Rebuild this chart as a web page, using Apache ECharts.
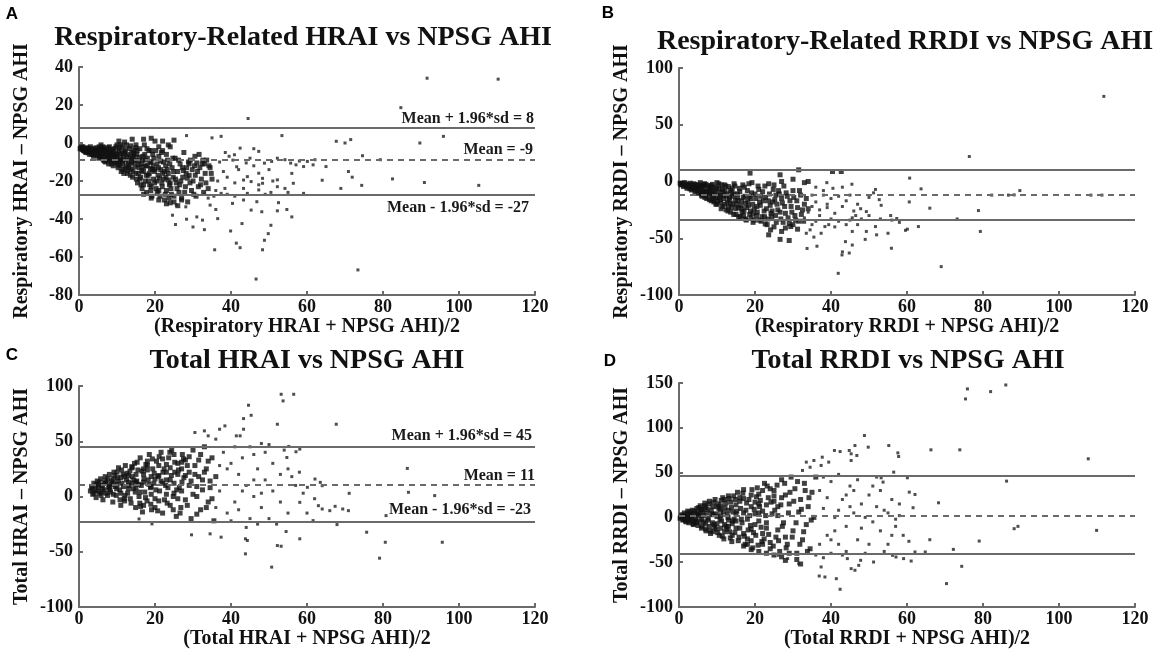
<!DOCTYPE html>
<html>
<head>
<meta charset="utf-8">
<script src="https://cdn.jsdelivr.net/npm/echarts/dist/echarts.min.js"></script>
<style>
  html, body { margin: 0; padding: 0; background: #fff; }
  #chart { width: 1170px; height: 658px; }
</style>
</head>
<body>
<div id="chart"></div>
<script>
// x axis shared by all panels
const xMin = 0, xMax = 120, xStep = 20;

// y ranges [min, max, step]
const yRangeA = [-80, 40, 20];
const yRangeB = [-100, 100, 50];
const yRangeC = [-100, 100, 50];
const yRangeD = [-100, 150, 50];

// bias line values: [mean + 1.96sd, mean, mean - 1.96sd]
const linesA = [8, -9, -27];
const linesB = [10, -12, -34];
const linesC = [45, 11, -23];
const linesD = [46, 2, -41];

const labelsA = ['Mean + 1.96*sd = 8', 'Mean = -9', 'Mean - 1.96*sd = -27'];
const labelsC = ['Mean + 1.96*sd = 45', 'Mean = 11', 'Mean - 1.96*sd = -23'];

const titles = [
  'Respiratory-Related HRAI vs NPSG AHI',
  'Respiratory-Related RRDI vs NPSG AHI',
  'Total HRAI vs NPSG AHI',
  'Total RRDI vs NPSG AHI'
];
const xNames = [
  '(Respiratory HRAI + NPSG AHI)/2',
  '(Respiratory RRDI + NPSG AHI)/2',
  '(Total HRAI + NPSG AHI)/2',
  '(Total RRDI + NPSG AHI)/2'
];
const yNames = [
  'Respiratory HRAI \u2013 NPSG AHI',
  'Respiratory RRDI \u2013 NPSG AHI',
  'Total HRAI \u2013 NPSG AHI',
  'Total RRDI \u2013 NPSG AHI'
];
const letters = ['A', 'B', 'C', 'D'];

// ---- panel A points (mean, difference) ----
const denseA = [
  [0.5,-2.5],[0.8,-3.5],[1,-2],[1.2,-4],[1.5,-3],[1.8,-5],[2,-2.5],[2.2,-4.5],[2.5,-3.5],[2.8,-6],[3,-2],[3.2,-5],[3.5,-4],[3.8,-7],[4,-3],[4.2,-5.5],[4.5,-2.5],[4.8,-6.5],[5,-4],[5.2,-8],[5.5,-3],
  [5.6,-5.5],[5.8,-1],[6,-7],[6.2,-4],[6.4,-9],[6.6,-2.5],[6.8,-6],[7,-10],[7.2,-3.5],[7.4,-8],[7.6,-5],[7.8,-11],[8,-2],[8.2,-7],[8.4,-4.5],[8.6,-9.5],[8.8,-6],[9,-12],[9.2,-3],[9.4,-8.5],[9.6,-5.5],[9.8,-10.5],[10,-1],[10,-7],
  [10.3,-13],[10.5,-4],[10.7,-9],[10.9,-6],[11.1,-15],[11.3,-2],[11.5,-11],[11.7,-7.5],[11.9,-4.5],[12.1,-13.5],[12.3,-9],[12.5,-1],[12.7,-16],[12.9,-6],[13.1,-11.5],[13.3,-3],[13.5,-8],[13.7,-14],[13.9,-5],[14.1,-18],[14.3,-10],[14.5,-7],[14.7,-12.5],[14.9,-2.5],[15,-16],
  [15.2,-6],[15.4,-21],[15.6,-9.5],[15.8,-13],[16,-3],[16.2,-18],[16.4,-11],[16.6,-24],[16.8,-7],[17,-15],[17.2,-1],[17.4,-20],[17.6,-12],[17.8,-26],[18,-8],[18.2,-17],[18.4,-4],[18.6,-22],[18.8,-13.5],[19,-10],[19.2,-28],[19.4,-6],[19.6,-19],[19.8,-15],[20,1],
  [20.3,-24],[20.5,-11],[20.8,-17],[21,-7],[21.3,-28],[21.5,-14],[21.8,-21],[22,-4],[22.3,-19],[22.5,-30],[22.8,-12],[23,-25],[23.3,-9],[23.5,-16],[23.8,-22],[24,-2],[24.3,-27],[24.5,-13],[24.8,-18],[25,-31],
  [25.3,-8],[25.6,-21],[26,-15],[26.3,-26],[26.6,-11],[27,-29],[27.3,-18],[27.6,-5],[28,-23],[28.3,-13],[28.6,-31],[29,-17],[29.3,-9],[29.6,-25],[30,-20],[30.4,-12],[30.8,-28],[31.2,-15],[31.6,-6],[32,-22],[32.4,-11],[32.8,-26],[33.2,-16],[33.6,-9],[34,-24],[34.5,-13],[35,-19],[33,-11],[31,-10.5],[29,-11],
  [1.4,-3.8],[2.6,-2.8],[3.4,-6],[4.4,-4.2],[5.4,-6.8],[6.5,-8],[7.5,-6.5],[8.5,-11],[9.5,-7],[10.5,-10.5],[11,-8.5],[12,-5.5],[13,-9.5],[14,-7.5],[15.5,-11.5],[16.5,-14.5],[17.5,-9],[18.5,-16],[19.5,-12],[20.5,-20],[21.5,-9.5],[22.5,-15],[23.5,-19.5],[12.5,-12],[11.5,-14],[13.5,-17],[14.5,-4],[16,-19],[17,-22],[18,-12],[19,-23],[20,-14],[21,-25],[22,-16],[23,-6],[24,-21],[6,-3],[7,-5],[8,-8.5],[9,-4.5],[10,-9],
  [10.5,1],[14,2],[17,2],[19,2.5],[22,1],[25,1.5],[12,0.5],
  [17,-27],[19,-29],[21,-30],[23,-32],[25,-28],[26,-33],[27,-30],[24,-31.5],
  [0.3,-3],[0.7,-2],[1.1,-3.2],[1.6,-4.5],[2.1,-3.5],[2.4,-5.2],[2.9,-4.2],[3.3,-3.2],[3.7,-5],[4.1,-6.2],[4.6,-3.8],[4.9,-5.2],[5.3,-2],[5.7,-7.5],[6.1,-5.2],[6.3,-2],[6.7,-9.5],[6.9,-4],[7.3,-7],[7.7,-2.5],[7.9,-9],[8.3,-5.5],[8.7,-3.5],[8.9,-7.5],[9.3,-10],[9.7,-2],[9.9,-6],[10.2,-11.5],[10.6,-3],[10.8,-12],[11.2,-5.5],[11.4,-9.5],[11.8,-16],[12.2,-3.5],[12.6,-7],[12.8,-14.5],[13.2,-13],[13.6,-1.5],[13.8,-10.5],[14.2,-15],[14.4,-5.5],[14.8,-9],[15.1,-19],[15.3,-4],[15.7,-16],[15.9,-7.5],[16.3,-22],[16.7,-9],[16.9,-12.5],[17.3,-6],[17.7,-17],[17.9,-3],[18.3,-20],[18.7,-10],[18.9,-25],[19.3,-14],[19.7,-8],[19.9,-21],[20.2,-4],[20.6,-26],[20.9,-13],[21.2,-18.5],[21.7,-5],[21.9,-23],[22.2,-10],[22.7,-27],[22.9,-18],[23.2,-14],[23.7,-29],[23.9,-11],[24.2,-24],[24.7,-8],[24.9,-15],[25.4,-19],[25.8,-24],[26.2,-9],[26.8,-20],[27.2,-13],[27.8,-26],[28.2,-16],[28.8,-10],[29.2,-21],[29.8,-14],[30.2,-27],[30.6,-17],[31.4,-23],[31.8,-13],[32.2,-19],[32.6,-9],[33.4,-21],[34.2,-12],[34.8,-16],[26.5,-22],[27.5,-14.5],[28.5,-18.5],[30.5,-7],[19,-4],[15,-1],[11,-1],[21,-2],[23.5,-1]
];
const sparseA = [
  [91.6,34.1],[110.3,33.6],[84.7,18.6],[44.5,12.9],[95.9,3.5],[89.7,0],[67.7,0.9],[70,0],[71.5,1.8],[53.4,3.9],[28.3,3.9],[35,2.7],[37.4,3.5],[74.6,-6.7],[79.3,-8.8],[82.5,-18.9],[90.9,-20.8],[105.2,-22.3],[74.4,-22.3],[71.9,-18],[70.9,-15],[68.9,-23.9],[64,-19.6],[65,-12.4],[59.1,-26.5],[56.4,-21.2],[52.2,-19.4],[52.2,-23],[54.2,-23.9],[52.5,-31.4],[54.7,-35],[56,-38.9],[52.2,-35.7],[50.5,-43.3],[49.8,-47.7],[48.8,-51.2],[48.3,-56.2],[46.6,-71.6],[73.4,-66.8],[42.4,-55.1],[41.4,-52.7],[39.9,-46.3],[42.9,-42.4],[35.7,-56.2],[33,-45.6],[30,-44.2],[28.3,-40.1],[25.4,-42.9],[32.5,-40.6],[31,-38.9],[36,-35],[34.5,-32.7],[24.6,-38],[25.6,-32.7],[28.1,-33.6],[36.5,-39.8],[40.4,-31.8],[43.3,-30],[45.3,-35.3],[46.8,-30.9],[48.1,-36.2],
  [38.5,-5],[39.5,-7],[40.5,-9],[41.5,-12.5],[42,-14],[43.3,-19.5],[44.3,-17.7],[45.3,-20.3],[47.3,-22],[48.3,-21.2],[47.3,-15.9],[48.8,-10.6],[50.7,-9.7],[52.2,-8],[54.2,-8.8],[55.7,-10.6],[57.1,-11.5],[59.1,-12.4],[60.1,-9.7],[61.6,-11.5],[62.1,-8.8],[47.3,-4.4],[42.4,-2.7],[40.9,-6.2],[48.3,-18.6],[47.3,-24.7],[43.3,-23.9],[44.3,-26.5],[38.4,-23.9],[37.4,-26.5],[38,-15],[36.5,-20],[37,-10],[39,-18],[41,-21],[45,-8],[46,-12],[50,-14],[51,-20],[44,-10.5],[39,-27],[41,-28],[35.5,-28],[36,-25],[34,-29],[33,-27],[56,-16],[58,-9.5],[49,-27],[50.5,-26],[55,-26],[46,-3]
];

// ---- panel B points ----
const denseB = [
  [0.3,-1.5],[0.6,-3],[0.9,-2],[1.2,-4.5],[1.5,-1],[1.8,-3.5],[2.1,-6],[2.4,-2.5],[2.7,-5],[3,-1.5],[3.3,-7.5],[3.6,-4],[3.9,-2],[4.2,-9],[4.5,-5.5],[4.8,-3],[5,-10.5],
  [5.3,-6.5],[5.6,-1],[5.9,-12],[6.2,-4],[6.5,-8.5],[6.8,-14],[7.1,-2.5],[7.4,-10],[7.7,-6],[8,-16],[8.3,-3.5],[8.6,-12.5],[8.9,-8],[9.2,-18],[9.5,-5],[9.8,-14.5],[10,-1],[10,-20],
  [10.3,-10],[10.6,-6.5],[10.9,-16],[11.2,-3],[11.5,-22],[11.8,-12],[12.1,-8],[12.4,-25],[12.7,-18],[13,-4.5],[13.3,-14],[13.6,-27],[13.9,-9.5],[14.2,-20],[14.5,-2],[14.8,-16.5],[15,-29],
  [15.3,-11],[15.6,-23],[15.9,-6],[16.2,-31],[16.5,-17],[16.8,-3],[17.1,-26],[17.4,-13],[17.7,-34],[18,-8],[18.3,-21],[18.6,-29],[18.9,-15],[19.2,-1],[19.5,-36],[19.8,-24],[20,-11],
  [20.4,-30],[20.8,-4],[21.2,-18],[21.6,-35],[22,-9],[22.4,-26],[22.8,-14],[23.2,-38],[23.6,-2],[24,-21],[24.4,-31],[24.8,-7],[25.2,-16],[25.6,-36],[26,-25],[26.4,-11],[26.8,-33],[27.2,-19],[27.6,-4],[28,-28],[28.5,-13],[29,-37],[29.5,-22],[30,-8],[30.5,-30],[31,-17],[31.5,-35],[32,-12],[32.5,-25],[33,-20],
  [2,-4],[3.5,-6],[5,-5],[6,-10],[7,-12],[8,-9],[9,-11],[10.5,-14],[11.5,-9],[12.5,-13],[13.5,-19],[14.5,-11],[15.5,-17],[16.5,-24],[17.5,-19],[18.5,-13],[19.5,-28],[20.5,-22],[21.5,-13],[22.5,-31],[23.5,-17],[24.5,-26],[25.5,-12],[9,-16],[11,-19],[13,-22],[15,-24],[17,-30],[19,-32],[21,-34],[4,-6.5],[6.5,-3],[8.5,-5],[12,-3],[14,-6],
  [18.7,7.4],[26.6,5.9],[31.5,10.3],[40.4,8.8],[42.7,8.8],[27,0],[30,2],[33,-1],[34,0],
  [22.7,-37.4],[24.1,-42.6],[23.6,-47],[26.6,-51],[29,-52],[29.4,-39.7],[31.2,-42],[25,-40],[27,-44],[28,-41],
  [0.5,-2.5],[1,-1.5],[1.3,-3],[1.7,-2.2],[2.2,-4.8],[2.6,-3.5],[2.9,-6.5],[3.2,-3],[3.7,-5.5],[4.1,-2.8],[4.6,-8],[4.9,-6],[5.2,-3],[5.5,-9.5],[5.8,-5],[6.1,-13],[6.4,-7],[6.7,-2],[7,-9],[7.3,-15],[7.6,-4],[7.9,-11],[8.2,-7],[8.5,-17],[8.8,-2.5],[9.1,-13],[9.4,-9],[9.7,-20],[9.9,-6],[10.2,-17],[10.5,-2],[10.8,-12],[11.1,-24],[11.4,-7],[11.7,-15],[12,-20],[12.3,-4],[12.6,-11],[12.9,-26],[13.2,-16],[13.5,-8],[13.8,-23],[14.1,-13],[14.4,-29],[14.7,-4],[15.1,-20],[15.4,-14],[15.7,-31],[16,-9],[16.3,-21],[16.6,-27],[16.9,-14],[17.2,-5],[17.5,-33],[17.8,-23],[18.1,-17],[18.4,-2],[18.8,-26],[19.1,-10],[19.4,-20],[19.7,-34],[20.2,-15],[20.6,-27],[21,-7],[21.4,-21],[21.8,-31],[22.2,-17],[22.6,-4],[23,-24],[23.4,-33],[23.8,-11],[24.2,-28],[24.6,-18],[25,-3],[25.4,-30],[25.8,-20],[26.2,-8],[26.6,-27],[27,-15],[27.4,-36],[27.8,-22],[28.2,-10],[28.7,-32],[29.2,-17],[29.7,-27],[30.2,-14],[30.7,-34],[31.2,-23],[31.7,-8],[32.2,-29],[33.5,-15],[34,-24],[32.8,-35],[30,-38]
];
const sparseB = [
  [111.8,75],[76.4,22],[89.7,-8],[88.2,-11.8],[78.8,-25.6],[79.3,-44],[73.2,-33],[69,-75],[66,-23.5],[63.7,-6.5],[60.7,3],[60.6,-18],[63,-39.7],[60.1,-42],[59.6,-43],[55.7,-30],[57.3,-32.6],[55.9,-58.8],[55,-45.6],[52,-47],[51.7,-39.7],[49,-51],[49.3,-44],[49.3,-26.5],[47.8,-24],[45.6,-44],[45.6,-56],[44.8,-63],[42.9,-64.7],[43,-62],[43.8,-53],[41.9,-80.9],[45.5,-2.4],[45.6,-32],[38.9,-1],[36.3,-57],[35.5,-49],[33.7,-59],[33.5,-45.6],[34.5,-42.6],[38.4,-39.7],[37.4,-45.6],[39.4,-38],[51.2,-10],[51.7,-7],[50,-14],[52.7,-16],[53.2,-21],[82.3,-12],[86.7,-12],[108.4,-12],[111.3,-12],
  [35,-12],[36,-18],[37,-25],[38,-12],[39,-20],[40,-15],[41,-28],[42,-13],[43,-22],[44,-17],[45,-12],[46.5,-30],[47,-20],[48,-33],[40,-33],[37,-30],[36,-35],[35,-38],[42,-35],[44,-38],[46,-26],[50,-30],[53,-33],[56,-34],[58,-36],[40.5,-6],[43,-5],[36,-5],[38,-8],[39,-23],[34,-27],[35,-22],[33,-32],[41,-40],[45,-34],[47,-38]
];

// ---- panel C points ----
const denseC = [
  [3,5],[3.3,9],[3.6,2],[3.9,12],[4.2,6],[4.5,-1],[4.8,14],[5.1,8],[5.4,3],[5.7,16],[6,10],[6.3,-3],[6.6,6],[6.9,18],[7.2,12],[7.5,1],[7.8,8],[8,20],
  [8.3,4],[8.6,14],[8.9,-5],[9.2,22],[9.5,9],[9.8,1],[10.1,17],[10.4,26],[10.7,6],[11,-8],[11.3,12],[11.6,20],[11.9,-2],[12.2,28],[12.5,15],[12.8,3],[13.1,10],[13.4,23],[13.7,-6],[14,18],
  [14.3,7],[14.6,30],[14.9,-10],[15.2,14],[15.5,24],[15.8,0],[16.1,35],[16.4,10],[16.7,-14],[17,20],[17.3,4],[17.6,29],[17.9,-4],[18.2,15],[18.5,38],[18.8,8],[19.1,-12],[19.4,25],[19.7,12],[20,-2],
  [20.4,32],[20.8,18],[21.2,5],[21.6,40],[22,-15],[22.4,25],[22.8,10],[23.2,-6],[23.6,35],[24,15],[24.4,42],[24.8,0],[25.2,22],[25.6,-18],[26,30],[26.4,8],[26.8,-10],[27.2,38],[27.6,17],[28,-3],
  [28.5,28],[29,10],[29.5,-20],[30,42],[30.5,20],[31,0],[31.5,33],[32,-12],[32.5,15],[33,45],[33.5,25],[34,-5],[34.5,8],[35,35],[35.5,-22],[36,18],
  [5,11],[6,4],[7,14],[8,9],[9,16],[10,11],[11,3],[12,18],[13,7],[14,12],[15,20],[16,4],[17,13],[18,24],[19,2],[20,16],[21,28],[22,12],[23,22],[24,-8],[25,12],[26,20],[27,5],[28,33],[10,22],[12,-4],[14,26],[16,-6],[18,32],[20,-10],[22,34],[24,26],[26,-2],[15,8],[17,-8],[19,18],[21,-4],[23,2],[25,38],[27,25],
  [3.5,7],[4,3],[4.4,10],[4.9,5],[5.3,13],[5.8,1],[6.2,8],[6.7,12],[7.1,3],[7.6,16],[8.1,6],[8.5,11],[9,2],[9.4,19],[9.9,7],[10.3,14],[10.8,-3],[11.2,24],[11.7,9],[12.1,1],[12.6,21],[13,13],[13.5,-2],[13.9,27],[14.4,15],[14.8,4],[15.3,31],[15.7,11],[16.2,-9],[16.6,23],[17.1,16],[17.5,-1],[18,28],[18.4,11],[18.9,-7],[19.3,34],[19.8,21],[20.2,6],[20.7,-13],[21.1,36],[21.6,14],[22.1,22],[22.5,-3],[23,29],[23.4,8],[23.9,40],[24.3,19],[24.8,-12],[25.2,31],[25.7,6],[26.2,24],[26.6,-15],[27.1,13],[27.5,34],[28,19],[28.5,-8],[29,36],[29.5,14],[30,2],[30.5,28],[31,-16],[31.5,18],[32,38],[32.5,6],[33,22],[33.5,-10],[34,32],[34.5,14],[35,-2],[9,12],[11,17],[13,19],[15,13],[17,25],[19,9],[21,19],[23,15],[25,3],[27,31],[29,22],[31,9]
];
const sparseC = [
  [53.2,92.5],[53.7,86.5],[56.5,92.5],[44.6,82.6],[45.3,73.5],[43.3,70.5],[52.2,65.4],[67.7,65.4],[38.4,63.9],[37,60.9],[41.4,54.9],[42.4,54.9],[43.3,60.9],[33,59.4],[34,54.9],[30.5,57.9],[36,51.9],[86.4,25.4],[86.7,3.8],[93.6,0.8],[80.8,-17.3],[80.6,-41.4],[79.1,-55.8],[95.6,-41.4],[75.7,-32.3],[71.1,2.9],[67.9,-25.4],[70.9,-12.8],[69.4,-11.3],[67.4,-8.9],[66,-12.8],[64,-11.3],[63,-8.3],[61.6,-21.8],[58.1,42.9],[57.1,40.5],[54.7,35.3],[55.2,45.3],[58.1,-5.3],[58.1,-38.3],[54.5,-31.7],[52.2,-44.4],[53.2,-45],[50.7,-63.9],[43.8,-51.9],[44.3,-39.8],[43.8,-38.3],[29.6,-34.7],[34.5,-33.8],[37.4,-36.8],[19.2,-24.8],[15.8,-20.3],[62.1,15.8],[63.5,12.8],[64,9.8],[60.1,8.3],
  [38,40],[40,30],[42,20],[44,10],[46,0],[48,-10],[50,-20],[39,-15],[41,-5],[43,35],[45,45],[47,25],[49,15],[51,5],[53,-5],[55,-15],[57,10],[37,5],[39,25],[41,45],[45,-20],[47,-25],[49,40],[51,30],[53,20],[55,25],[52,-25],[44,-28],[40,-22],[36,-10],[37,28],[42,-12],[46,38],[48,48],[50,47],[54,42],[56,18],[58,22],[60,-15],[62,-2],[59,3],[48,3],[46,15],[43,5]
];

// ---- panel D points ----
const denseD = [
  [0.5,0],[0.8,3],[1.1,-2],[1.4,5],[1.7,-4],[2,1],[2.3,7],[2.6,-6],[2.9,3],[3.2,-1],[3.5,8],[3.8,-8],[4.1,4],[4.4,-3],[4.7,10],[5,-9],
  [5.3,2],[5.6,13],[5.9,-12],[6.2,6],[6.5,-5],[6.8,16],[7.1,-15],[7.4,9],[7.7,-1],[8,18],[8.3,-18],[8.6,4],[8.9,12],[9.2,-8],[9.5,20],[9.8,-13],[10,1],
  [10.3,15],[10.6,-20],[10.9,8],[11.2,-4],[11.5,22],[11.8,-24],[12.1,11],[12.4,-10],[12.7,3],[13,24],[13.3,-16],[13.6,17],[13.9,-27],[14.2,6],[14.5,-2],[14.8,20],[15,-12],
  [15.4,28],[15.8,-22],[16.2,10],[16.6,-6],[17,31],[17.4,-30],[17.8,16],[18.2,-14],[18.6,2],[19,25],[19.4,-34],[19.8,9],[20.2,-20],[20.6,33],[21,-4],[21.4,19],[21.8,-27],[22,7],
  [22.5,38],[23,-12],[23.5,22],[24,-35],[24.5,4],[25,30],[25.5,-22],[26,12],[26.5,-38],[27,42],[27.5,-6],[28,25],[28.5,-30],[29,15],[29.5,45],[30,-15],[30.5,32],[31,-40],[31.5,6],[32,20],[32.5,-25],[33,38],[33.5,-8],[34,12],[34.5,-35],[35,28],[35.5,0],[36,45],
  [3,0],[4,-5],[5,5],[6,-2],[7,11],[8,-10],[9,3],[10,-7],[11,13],[12,-16],[13,8],[14,-20],[15,14],[16,-12],[17,21],[18,-24],[19,12],[20,-8],[21,26],[22,-18],[23,14],[24,-28],[25,18],[26,-14],[27,22],[28,-22],[6,9],[7,-7],[9,-16],[10,12],[12,20],[14,-7],[16,22],[18,-2],[20,17],[22,-30],[24,32],[26,2],[11,-12],[13,-3],[15,4],[17,-18],[19,-26],[21,5],
  [17,-32],[19,-36],[21,-38],[23,-40],[25,-42],[27,-44],[29,-40],[31,-47],[28,-48],[32,-52],
  [0.3,-1],[0.7,1.5],[1,-3],[1.3,2],[1.6,0],[1.9,-5],[2.2,4],[2.5,-2],[2.8,6],[3.1,-4],[3.4,2],[3.7,-7],[4,7],[4.3,-1],[4.6,-6],[4.9,4],[5.2,11],[5.5,-4],[5.8,8],[6.1,-10],[6.4,2],[6.7,13],[7,-13],[7.3,5],[7.6,-3],[7.9,15],[8.2,-15],[8.5,8],[8.8,-6],[9.1,17],[9.4,-11],[9.7,4],[10.2,-17],[10.5,10],[10.8,-2],[11.1,19],[11.4,-21],[11.7,6],[12,-8],[12.3,16],[12.6,-13],[12.9,0],[13.2,21],[13.5,-23],[13.8,11],[14.1,-4],[14.4,24],[14.7,-17],[15.2,7],[15.6,-26],[16,18],[16.4,-2],[16.8,27],[17.2,-21],[17.6,8],[18,-30],[18.4,20],[18.8,-9],[19.2,31],[19.6,-17],[20,4],[20.4,23],[20.8,-31],[21.2,12],[21.6,-11],[22,30],[22.4,-24],[22.8,2],[23.2,35],[23.6,-19],[24.2,17],[24.8,-32],[25.2,8],[25.8,36],[26.2,-26],[26.8,14],[27.2,-10],[27.8,38],[28.2,-34],[28.8,5],[29.2,28],[29.8,-22],[30.2,18],[30.8,-6],[31.2,40],[31.8,-30],[32.2,9],[32.8,-16],[33.2,30],[33.8,-38],[34.2,22],[34.8,-3],[11,2],[13,-10],[15,-4],[17,5],[19,-13],[21,15],[23,-6],[25,24]
];
const sparseD = [
  [86,147.8],[82,140.4],[75.9,143.4],[75.4,132.2],[107.7,65.4],[86.2,40.5],[73.9,75.4],[66.3,75.4],[68.3,16.3],[88.2,-12.6],[89.2,-10],[109.9,-14.5],[79,-26.4],[72.2,-35.7],[74.4,-54.6],[70.4,-73.9],[66,-24.9],[64.8,-38.6],[62.1,-38.6],[61.1,-48.7],[60.5,-26.7],[62.1,25.6],[61.6,10.8],[60.1,44.2],[60.6,28.2],[55.2,80.2],[57.6,72],[57.8,68],[56.5,50.5],[53.2,44.2],[53.7,39.4],[48.8,91.4],[49.8,78.4],[46.3,80.2],[45.3,71],[46.8,69.1],[44.8,74.7],[45.3,63.5],[40.9,74.7],[42.4,73.5],[39.4,61.7],[37.7,67.2],[37.4,58],[33.5,61.7],[34.5,56],[35.5,63.5],[32.5,52.4],[42.4,-80.2],[41.4,-68.4],[38.4,-66.5],[37.4,-55.3],[36.9,-65.4],[46.3,-59],[45.3,-57.2],[44.3,-46],[47.3,-53.5],[51.2,-49.8],[47.8,-47.9],[31.5,-51.6],[28.6,-46],[26.1,-42.3],[57.1,-44.2],[56.2,-42.3],[59.1,-46],
  [37,30],[38,10],[39,-20],[40,40],[41,0],[42,-30],[43,20],[44,-10],[45,35],[46,5],[47,-25],[48,15],[49,-40],[50,25],[51,-5],[52,45],[53,-15],[54,8],[55,-30],[56,20],[57,-10],[58,2],[59,-20],[38,45],[40,-40],[42,48],[44,-38],[46,30],[48,-12],[50,-30],[52,12],[54,-38],[56,-20],[58,15],[39,22],[41,-15],[43,-42],[45,12],[47,42],[49,0],[51,35],[53,30],[55,5],[57,-2],[37,-30],[36,-42],[38,-45],[40,-25],[42,8],[44,25]
];

const serif = "'Liberation Serif', 'Times New Roman', serif";
const sans = "'Liberation Sans', Arial, sans-serif";
const axisGray = '#6a6a6a';

// layout of the four plot boxes
const panels = [
  { grid: { left: 79, top: 67, width: 456, height: 228 }, yr: yRangeA, dense: denseA, sparse: sparseA, lines: linesA, labels: labelsA,
    labelPos: ['insideEndTop', 'insideEndTop', 'insideEndBottom'], labelDist: [1, 2, 6],
    title: [303, 38], letter: [12, 14], xGap: 22, yGap: 47 },
  { grid: { left: 679, top: 68, width: 456, height: 227 }, yr: yRangeB, dense: denseB, sparse: sparseB, lines: linesB, labels: null,
    title: [905, 42], letter: [608, 13], xGap: 22, yGap: 47 },
  { grid: { left: 79, top: 386, width: 456, height: 221 }, yr: yRangeC, dense: denseC, sparse: sparseC, lines: linesC, labels: labelsC,
    labelPos: ['insideEndTop', 'insideEndTop', 'insideEndTop'], labelDist: [3, 0, 4],
    title: [307, 361], letter: [12, 355], xGap: 22, yGap: 47 },
  { grid: { left: 679, top: 383, width: 456, height: 224 }, yr: yRangeD, dense: denseD, sparse: sparseD, lines: linesD, labels: null,
    title: [908, 361], letter: [610, 361], xGap: 22, yGap: 47 }
];

const chart = echarts.init(document.getElementById('chart'));

const grid = [], xAxis = [], yAxis = [], series = [], graphic = [];

panels.forEach(function (p, i) {
  grid.push(p.grid);

  const common = {
    gridIndex: i,
    type: 'value',
    splitLine: { show: false },
    axisLine: { show: true, onZero: false, lineStyle: { color: axisGray, width: 2 } },
    axisTick: { show: true, inside: true, length: 4, lineStyle: { color: axisGray, width: 2 } },
    nameLocation: 'middle',
    nameTextStyle: { fontFamily: serif, fontWeight: 'bold', fontSize: 20, color: '#111' }
  };

  xAxis.push(Object.assign({}, common, {
    min: xMin, max: xMax, interval: xStep,
    name: xNames[i], nameGap: p.xGap,
    axisLabel: { fontFamily: serif, fontWeight: 'bold', fontSize: 18, color: '#111', margin: 3, showMinLabel: true, showMaxLabel: true }
  }));

  yAxis.push(Object.assign({}, common, {
    min: p.yr[0], max: p.yr[1], interval: p.yr[2],
    name: yNames[i], nameGap: p.yGap,
    axisLabel: { fontFamily: serif, fontWeight: 'bold', fontSize: 18, color: '#111', margin: 6, showMinLabel: true, showMaxLabel: true }
  }));

  const markData = p.lines.map(function (v, k) {
    return {
      yAxis: v,
      lineStyle: { color: axisGray, width: 2, type: k === 1 ? [6, 5] : 'solid' },
      label: p.labels ? {
        show: true,
        formatter: p.labels[k],
        position: p.labelPos[k],
        distance: p.labelDist[k],
        fontFamily: serif, fontWeight: 'bold', fontSize: 16, color: '#1a1a1a'
      } : { show: false }
    };
  });

  series.push({
    type: 'scatter',
    xAxisIndex: i, yAxisIndex: i,
    data: p.dense,
    symbol: 'rect',
    symbolSize: 5,
    itemStyle: { color: '#111' },
    silent: true,
    markLine: {
      silent: true,
      symbol: ['none', 'none'],
      data: markData
    }
  });
  series.push({
    type: 'scatter',
    xAxisIndex: i, yAxisIndex: i,
    data: p.sparse,
    symbol: 'rect',
    symbolSize: 3,
    itemStyle: { color: '#222' },
    silent: true
  });

  graphic.push({
    type: 'text', x: p.title[0], y: p.title[1],
    style: { text: titles[i], font: 'bold 28px ' + serif, fill: '#111', align: 'center', verticalAlign: 'middle' }
  });
  graphic.push({
    type: 'text', x: p.letter[0], y: p.letter[1],
    style: { text: letters[i], font: 'bold 17px ' + sans, fill: '#000', align: 'center', verticalAlign: 'middle' }
  });
});

chart.setOption({
  animation: false,
  backgroundColor: '#fff',
  grid: grid,
  xAxis: xAxis,
  yAxis: yAxis,
  series: series,
  graphic: graphic
});
</script>
</body>
</html>
